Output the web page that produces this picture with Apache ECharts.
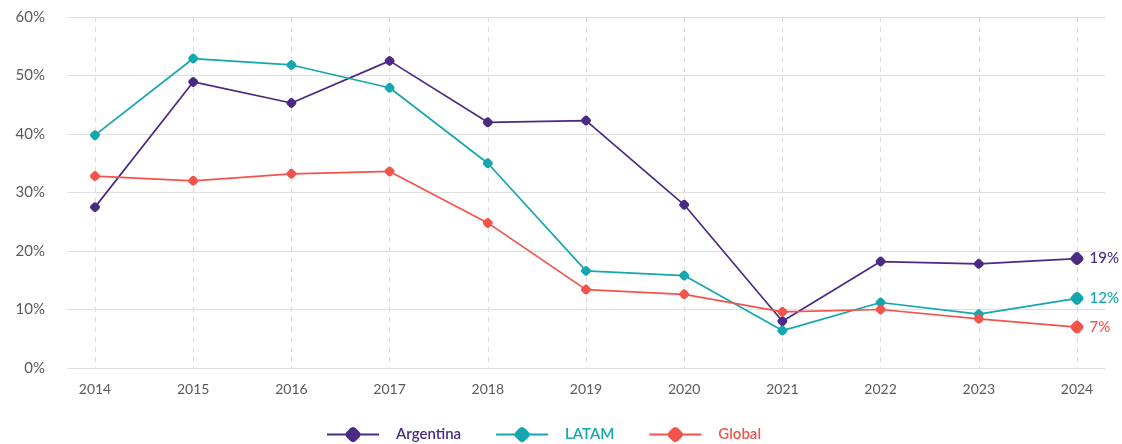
<!DOCTYPE html>
<html>
<head>
<meta charset="utf-8">
<script src="https://cdn.jsdelivr.net/npm/echarts@6/dist/echarts.min.js"></script>
<style>
html,body{margin:0;padding:0;background:#fff;}
#chart{width:1122px;height:444px;}
</style>
</head>
<body>
<div id="chart"></div>
<script>
const years = ['2014','2015','2016','2017','2018','2019','2020','2021','2022','2023','2024'];
const argentina = [27.5, 48.9, 45.3, 52.5, 42.0, 42.3, 27.9, 8.0, 18.2, 17.8, 18.7];
const latam     = [39.8, 52.9, 51.8, 47.9, 35.0, 16.6, 15.8, 6.4, 11.2, 9.2, 11.9];
const global    = [32.8, 32.0, 33.2, 33.6, 24.8, 13.4, 12.6, 9.6, 10.0, 8.4, 7.0];
const yTicks = [0, 10, 20, 30, 40, 50, 60];

const seriesDefs = [
  {name: 'Argentina', data: argentina, color: '#4B2A85'},
  {name: 'LATAM', data: latam, color: '#14A7AF'},
  {name: 'Global', data: global, color: '#F4534B'}
];
const FONT = 'Lato, "Open Sans", sans-serif';
const rd = 'path://M30,12 Q50,-8 70,12 L88,30 Q108,50 88,70 L70,88 Q50,108 30,88 L12,70 Q-8,50 12,30 Z';
const last = years.length - 1;

const chart = echarts.init(document.getElementById('chart'));
chart.setOption({
  animation: false,
  backgroundColor: '#fff',
  textStyle: {fontFamily: FONT},
  legend: {
    left: 326, top: 427, padding: 0,
    itemWidth: 52, itemHeight: 19, itemGap: 34,
    data: seriesDefs.map(s => ({name: s.name, textStyle: {color: s.color}})),
    textStyle: {fontSize: 15, fontWeight: 600, fontFamily: FONT, padding: [0,0,0,12]}
  },
  grid: [
    {left: 67, right: 17, top: 17, bottom: 76},
    {left: 95, right: 45, top: 17, bottom: 76}
  ],
  xAxis: [
    {type: 'category', gridIndex: 0, data: years, show: false},
    {type: 'category', gridIndex: 1, data: years, boundaryGap: false,
     axisLine: {show: false}, axisTick: {show: false},
     axisLabel: {color: '#5a5a5a', fontSize: 14, margin: 14, fontFamily: FONT},
     splitLine: {show: true, lineStyle: {color: '#dcdcdc', type: [5,5], width: 1}}}
  ],
  yAxis: [
    {type: 'value', gridIndex: 0, min: yTicks[0], max: yTicks[yTicks.length-1], interval: 10,
     axisLine: {show: false}, axisTick: {show: false},
     axisLabel: {formatter: v => v + '%', color: '#5a5a5a', fontSize: 15, margin: 22, fontFamily: FONT},
     splitLine: {lineStyle: {color: '#dedede', width: 1.2}}},
    {type: 'value', gridIndex: 1, min: yTicks[0], max: yTicks[yTicks.length-1], interval: 10, show: false}
  ],
  series: seriesDefs.map(s => ({
    name: s.name, type: 'line', xAxisIndex: 1, yAxisIndex: 1,
    data: s.data,
    color: s.color,
    symbol: rd,
    symbolSize: (v, p) => p.dataIndex === last ? 13 : 10,
    showAllSymbol: true,
    lineStyle: {width: 1.7, color: s.color},
    itemStyle: {color: s.color},
    label: {
      show: true, position: 'right', distance: 6,
      color: s.color, fontSize: 15, fontWeight: 500, fontFamily: FONT,
      formatter: p => p.dataIndex === last ? Math.round(p.value) + '%' : ''
    }
  }))
});
</script>
</body>
</html>
